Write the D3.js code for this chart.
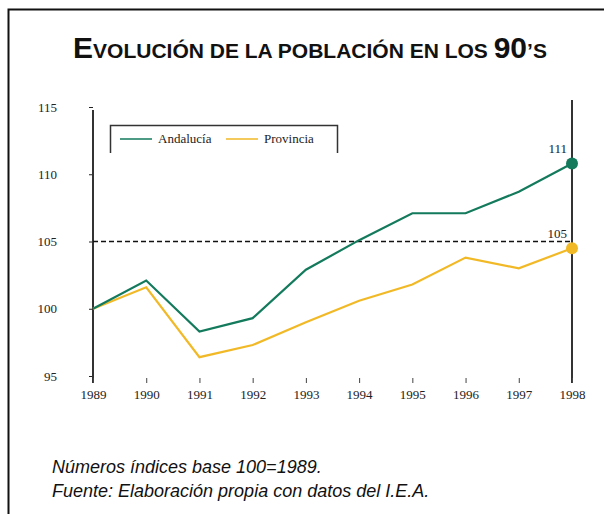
<!DOCTYPE html>
<html>
<head>
<meta charset="utf-8">
<script src="https://cdn.jsdelivr.net/npm/d3@7"></script>
<style>
  body { margin: 0; background: #fff; }
  svg { display: block; }
  .tick text { font-family: "Liberation Serif", serif; font-size: 13px; fill: #222; }
</style>
</head>
<body>
<div class="grafico"></div>
<script>
const width = 604;
const height = 514;

// datos
const anios = [1989, 1990, 1991, 1992, 1993, 1994, 1995, 1996, 1997, 1998];
const andalucia = [100, 102.1, 98.3, 99.3, 102.9, 105.1, 107.1, 107.1, 108.7, 110.8];
const provincia = [100, 101.6, 96.4, 97.3, 99.0, 100.6, 101.8, 103.8, 103.0, 104.5];
const yTicks = [95, 100, 105, 110, 115];
const etiquetasFin = ["111", "105"];

const verde = "#137a5c";
const amarillo = "#f2b927";

const svg = d3.select(".grafico").append("svg")
    .attr("width", width)
    .attr("height", height);

// marco
svg.append("path")
    .attr("d", "M8.5," + height + " V9.5 H" + width)
    .attr("fill", "none")
    .attr("stroke", "#111")
    .attr("stroke-width", 2);

// titulo en versalitas
const titulo = svg.append("text")
    .attr("x", 310)
    .attr("y", 58)
    .attr("text-anchor", "middle")
    .attr("font-family", "Liberation Sans, Arial, sans-serif")
    .attr("font-weight", "bold")
    .attr("fill", "#111");
const partes = [["E", 30], ["VOLUCIÓN DE LA POBLACIÓN EN LOS ", 21], ["90", 30], ["’S", 21]];
partes.forEach(function (p) {
    titulo.append("tspan").attr("font-size", p[1]).text(p[0]);
});

const x = d3.scaleLinear().domain([1989, 1998]).range([93, 572]);
const y = d3.scaleLinear().domain([95, 115]).range([376, 107]);

// eje y
const ejeY = svg.append("g")
    .attr("transform", "translate(93,0)")
    .call(d3.axisLeft(y).tickValues(yTicks).tickSize(4).tickFormat(d3.format("d")));
ejeY.select(".domain").remove();
ejeY.selectAll(".tick line").attr("stroke", "#222");
ejeY.selectAll(".tick text").attr("x", -36);

svg.append("line")
    .attr("x1", 93).attr("x2", 93)
    .attr("y1", 110).attr("y2", 383)
    .attr("stroke", "#333").attr("stroke-width", 2);

svg.append("line")
    .attr("x1", 572).attr("x2", 572)
    .attr("y1", 100).attr("y2", 383)
    .attr("stroke", "#333").attr("stroke-width", 2);

// eje x
const ejeX = svg.append("g")
    .attr("transform", "translate(0,383)")
    .call(d3.axisTop(x).tickValues(anios).tickSize(5).tickFormat(d3.format("d")));
ejeX.select(".domain").remove();
ejeX.selectAll(".tick line").attr("stroke", "#444");
ejeX.selectAll(".tick text").attr("y", 16).attr("dy", 0);

// linea de referencia 105
svg.append("line")
    .attr("x1", x(1989)).attr("x2", x(1998))
    .attr("y1", y(105)).attr("y2", y(105))
    .attr("stroke", "#111")
    .attr("stroke-width", 1.3)
    .attr("stroke-dasharray", "5,3");

const linea = d3.line()
    .x(function (d, i) { return x(anios[i]); })
    .y(function (d) { return y(d); });

svg.append("path").datum(provincia)
    .attr("d", linea)
    .attr("fill", "none")
    .attr("stroke", amarillo)
    .attr("stroke-width", 2.2);

svg.append("path").datum(andalucia)
    .attr("d", linea)
    .attr("fill", "none")
    .attr("stroke", verde)
    .attr("stroke-width", 2.2);

// puntos finales
const ultimo = anios.length - 1;
[[andalucia, verde], [provincia, amarillo]].forEach(function (s, i) {
    svg.append("circle")
        .attr("cx", x(anios[ultimo]))
        .attr("cy", y(s[0][ultimo]))
        .attr("r", 6)
        .attr("fill", s[1]);
    svg.append("text")
        .attr("x", x(anios[ultimo]) - 5)
        .attr("y", y(s[0][ultimo]) - 10)
        .attr("text-anchor", "end")
        .attr("font-family", "Liberation Serif, serif")
        .attr("font-size", 13)
        .attr("fill", "#222")
        .text(etiquetasFin[i]);
});

// leyenda
svg.append("path")
    .attr("d", "M110.5,153 V125.5 H337.5 V153")
    .attr("fill", "none")
    .attr("stroke", "#333")
    .attr("stroke-width", 1.5);

const leyenda = [["Andalucía", verde, 120], ["Provincia", amarillo, 226]];
leyenda.forEach(function (l) {
    svg.append("line")
        .attr("x1", l[2]).attr("x2", l[2] + 32)
        .attr("y1", 139).attr("y2", 139)
        .attr("stroke", l[1]).attr("stroke-width", 1.5);
    svg.append("text")
        .attr("x", l[2] + 38)
        .attr("y", 143)
        .attr("font-family", "Liberation Serif, serif")
        .attr("font-size", 13)
        .attr("fill", "#222")
        .text(l[0]);
});

// notas
const notas = ["Números índices base 100=1989.", "Fuente: Elaboración propia con datos del I.E.A."];
notas.forEach(function (t, i) {
    svg.append("text")
        .attr("x", 52)
        .attr("y", 473 + i * 24)
        .attr("font-family", "Liberation Sans, Arial, sans-serif")
        .attr("font-style", "italic")
        .attr("font-size", 18)
        .attr("fill", "#111")
        .text(t);
});
</script>
</body>
</html>
